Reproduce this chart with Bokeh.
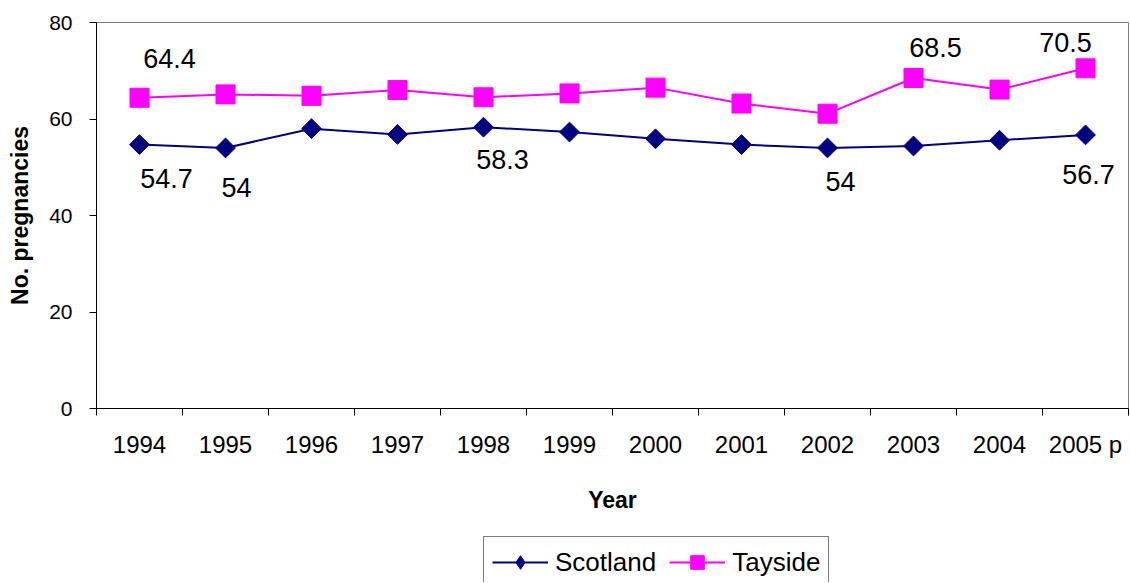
import numpy as np
from bokeh.plotting import figure
from bokeh.layouts import column
from bokeh.models import ColumnDataSource, FixedTicker, Legend, LegendItem, Range1d
from bokeh.core.properties import value
from bokeh.embed import file_html
from bokeh.resources import INLINE

# ---- data ----
years = ["1994", "1995", "1996", "1997", "1998", "1999",
         "2000", "2001", "2002", "2003", "2004", "2005 p"]
scotland = [54.7, 54.0, 58.0, 56.8, 58.3, 57.3, 55.9, 54.7, 54.0, 54.4, 55.6, 56.7]
tayside = [64.4, 65.1, 64.8, 66.0, 64.5, 65.3, 66.5, 63.2, 61.1, 68.5, 66.1, 70.5]
series_names = ["Scotland", "Tayside"]
scotland_labelled = [0, 1, 4, 8, 11]
tayside_labelled = [0, 9, 11]
y_ticks = [0, 20, 40, 60, 80]

# label placement (screen px offsets, style only)
scot_dx = [27, 11, 19, 13, 3]
scot_dy = [34, 40, 32, 34, 40]
tay_dx = [30, 22, -20]
tay_dy = [-39, -30, -26]

FONT = "Liberation Sans"
NAVY = "#000080"
MAGENTA = "#FF00FF"

xs = np.arange(len(years)) + 0.5

p = figure(width=1129, height=536,
           x_range=Range1d(0, len(years)), y_range=Range1d(0, 80),
           output_backend="svg", toolbar_location=None,
           min_border_left=96, min_border_right=1,
           min_border_top=22, min_border_bottom=128)
p.background_fill_color = "white"
p.border_fill_color = "white"
p.outline_line_color = "#808080"
p.outline_line_width = 1
p.xgrid.visible = False
p.ygrid.visible = False

# x axis: labels at category centres, ticks at boundaries
xa = p.xaxis[0]
xa.ticker = FixedTicker(ticks=list(xs), minor_ticks=list(range(len(years) + 1)))
xa.major_label_overrides = {float(x): y for x, y in zip(xs, years)}
xa.major_tick_out = 0
xa.major_tick_in = 0
xa.minor_tick_out = 7
xa.minor_tick_in = 0
xa.minor_tick_line_color = "black"
xa.axis_line_color = "black"
xa.major_label_text_font = FONT
xa.major_label_text_font_size = "24px"
xa.major_label_text_color = "black"
xa.major_label_standoff = 15
xa.axis_label = "Year"
xa.axis_label_text_font = FONT
xa.axis_label_text_font_style = "bold"
xa.axis_label_text_font_size = "23px"
xa.axis_label_text_color = "black"
xa.axis_label_standoff = 26

ya = p.yaxis[0]
ya.ticker = FixedTicker(ticks=y_ticks)
ya.major_tick_out = 7
ya.major_tick_in = 0
ya.minor_tick_line_color = None
ya.major_tick_line_color = "black"
ya.axis_line_color = "black"
ya.major_label_text_font = FONT
ya.major_label_text_font_size = "21px"
ya.major_label_text_color = "black"
ya.major_label_standoff = 17
ya.axis_label = "No. pregnancies"
ya.axis_label_text_font = FONT
ya.axis_label_text_font_style = "bold"
ya.axis_label_text_font_size = "23px"
ya.axis_label_text_color = "black"
ya.axis_label_standoff = 13

src = ColumnDataSource(dict(x=xs, scot=scotland, tay=tayside))

scot_line = dict(line_color=NAVY, line_width=2)
scot_mark = dict(marker="square", angle=np.pi / 4, size=14, fill_color=NAVY, line_color=NAVY)
tay_line = dict(line_color=MAGENTA, line_width=2)
tay_mark = dict(marker="square", size=19, fill_color=MAGENTA, line_color=MAGENTA)

p.line("x", "scot", source=src, **scot_line)
p.scatter("x", "scot", source=src, **scot_mark)
p.line("x", "tay", source=src, **tay_line)
p.scatter("x", "tay", source=src, **tay_mark)

# data labels
slab = ColumnDataSource(dict(
    x=[xs[i] for i in scotland_labelled],
    y=[scotland[i] for i in scotland_labelled],
    t=[f"{scotland[i]:g}" for i in scotland_labelled],
    dx=scot_dx, dy=scot_dy))
tlab = ColumnDataSource(dict(
    x=[xs[i] for i in tayside_labelled],
    y=[tayside[i] for i in tayside_labelled],
    t=[f"{tayside[i]:g}" for i in tayside_labelled],
    dx=tay_dx, dy=tay_dy))
for s in (slab, tlab):
    p.text("x", "y", text="t", source=s, x_offset="dx", y_offset="dy",
           text_align="center", text_baseline="middle",
           text_font=value(FONT), text_font_size="27px", text_color="black")

# ---- legend strip below the chart (its ranges keep the series out of view) ----
pl = figure(width=1129, height=46, x_range=Range1d(-2, -1), y_range=Range1d(-2, -1),
            output_backend="svg", toolbar_location=None,
            x_axis_location=None, y_axis_location=None,
            min_border_left=0, min_border_right=0,
            min_border_top=0, min_border_bottom=0)
pl.outline_line_color = None
pl.xgrid.visible = False
pl.ygrid.visible = False
ls = pl.line("x", "scot", source=src, **scot_line)
ms = pl.scatter("x", "scot", source=src, marker="diamond", size=14,
                fill_color=NAVY, line_color=NAVY)
lt = pl.line("x", "tay", source=src, **tay_line)
mt = pl.scatter("x", "tay", source=src, **tay_mark)

legend = Legend(items=[LegendItem(label=series_names[0], renderers=[ls, ms]),
                       LegendItem(label=series_names[1], renderers=[lt, mt])],
                orientation="horizontal", location=(387, -6))
legend.label_text_font = FONT
legend.label_text_font_size = "26px"
legend.label_text_color = "black"
legend.glyph_width = 56
legend.glyph_height = 34
legend.label_standoff = 7
legend.spacing = 13
legend.padding = 8
legend.margin = 0
legend.border_line_color = "black"
legend.border_line_width = 1
legend.background_fill_color = "white"
legend.background_fill_alpha = 1
pl.add_layout(legend, "center")

layout = column(p, pl, spacing=0)
open("out.html", "w").write(file_html(layout, INLINE))
